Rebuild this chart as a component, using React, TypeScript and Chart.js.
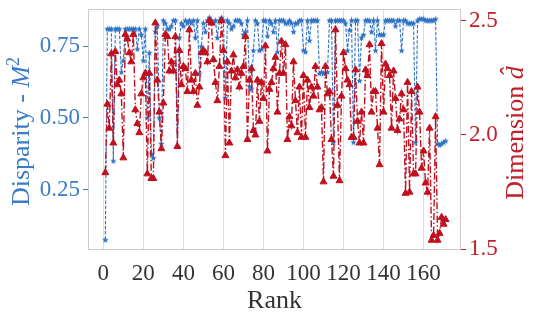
import { useEffect, useRef } from 'react';
import { Chart, registerables } from 'chart.js';

Chart.register(...registerables);

// Disparity M^2 (left axis), rank 1..171
const disparity = [
  0.075, 0.81, 0.81, 0.81, 0.35, 0.81, 0.81, 0.81, 0.66, 0.70,
  0.81, 0.81, 0.81, 0.81, 0.81, 0.81, 0.74, 0.81, 0.79, 0.70,
  0.81, 0.50, 0.727, 0.375, 0.36, 0.80, 0.82, 0.50, 0.41, 0.84,
  0.83, 0.81, 0.81, 0.82, 0.84, 0.84, 0.40, 0.78, 0.83, 0.82,
  0.84, 0.83, 0.84, 0.83, 0.84, 0.78, 0.84, 0.655, 0.75, 0.83,
  0.80, 0.84, 0.85, 0.84, 0.83, 0.84, 0.78, 0.84, 0.85, 0.84,
  0.57, 0.84, 0.83, 0.81, 0.82, 0.84, 0.84, 0.84, 0.83, 0.79,
  0.80, 0.84, 0.61, 0.60, 0.735, 0.84, 0.83, 0.735, 0.74, 0.84,
  0.84, 0.785, 0.84, 0.83, 0.80, 0.84, 0.73, 0.84, 0.84, 0.84,
  0.83, 0.83, 0.84, 0.83, 0.80, 0.83, 0.83, 0.84, 0.84, 0.736,
  0.73, 0.84, 0.77, 0.84, 0.84, 0.84, 0.84, 0.655, 0.66, 0.655,
  0.655, 0.66, 0.84, 0.84, 0.415, 0.84, 0.84, 0.84, 0.84, 0.84,
  0.83, 0.735, 0.806, 0.84, 0.415, 0.84, 0.84, 0.63, 0.78, 0.79,
  0.84, 0.84, 0.84, 0.80, 0.84, 0.735, 0.84, 0.79, 0.79, 0.79,
  0.84, 0.84, 0.84, 0.84, 0.84, 0.82, 0.84, 0.84, 0.735, 0.84,
  0.84, 0.83, 0.83, 0.83, 0.83, 0.415, 0.84, 0.845, 0.845, 0.845,
  0.84, 0.84, 0.84, 0.84, 0.84, 0.845, 0.41, 0.405, 0.41, 0.415,
  0.42,
];

// Dimension d-hat (right axis), rank 1..171
const dimension = [
  1.835, 2.135, 2.03, 2.355, 1.965, 2.365, 2.22, 2.24, 2.18, 1.90,
  2.44, 2.42, 2.36, 2.32, 2.44, 2.11, 2.05, 2.01, 2.18, 2.25,
  2.27, 1.83, 2.27, 1.81, 1.81, 2.49, 2.24, 2.10, 1.94, 2.14,
  2.44, 2.43, 2.28, 2.32, 2.28, 2.43, 1.95, 2.37, 2.22, 2.30,
  2.29, 2.19, 2.46, 2.24, 2.19, 2.27, 2.13, 2.21, 2.36, 2.37,
  2.36, 2.32, 2.50, 2.49, 2.33, 2.23, 2.15, 2.30, 2.50, 2.37,
  1.91, 2.32, 1.965, 2.28, 2.35, 2.25, 2.285, 2.21, 2.27, 2.30,
  2.43, 1.98, 2.24, 2.29, 2.02, 2.00, 2.24, 2.06, 2.23, 2.16,
  2.39, 1.93, 2.20, 2.23, 2.29, 2.34, 2.10, 2.27, 2.41, 2.27,
  2.395, 1.98, 2.08, 2.04, 2.32, 2.15, 2.01, 2.21, 1.99, 2.26,
  1.99, 2.24, 2.12, 2.21, 2.17, 2.30, 2.21, 2.11, 2.12, 1.795,
  2.30, 2.18, 2.19, 1.98, 1.82, 2.46, 2.13, 1.80, 2.17, 2.36,
  2.29, 2.24, 2.22, 1.99, 1.99, 2.285, 2.06, 1.965, 2.10, 1.965,
  2.285, 2.26, 2.395, 2.10, 2.19, 2.19, 2.03, 1.87, 2.40, 2.10,
  2.31, 2.29, 2.26, 2.03, 2.28, 2.16, 2.02, 2.07, 2.18, 2.11,
  1.745, 2.23, 1.75, 2.19, 1.83, 1.83, 2.21, 2.10, 1.855, 1.93,
  1.79, 1.75, 2.03, 1.54, 1.56, 2.08, 1.54, 1.57, 1.64, 1.61,
  1.63,
];

const ranks = disparity.map((_, i) => i + 1);

const xTicks = [0, 20, 40, 60, 80, 100, 120, 140, 160];
const leftTicks = [0.25, 0.5, 0.75];
const rightTicks = [1.5, 2.0, 2.5];

const BLUE = '#2f72c4';
const BLUE_TXT = '#3a7cc8';
const RED = '#c0101e';
const RED_TXT = '#c0202a';
const SERIF = '"Liberation Serif", "Times New Roman", serif';

function makeStar(color: string, size: number) {
  const c = document.createElement('canvas');
  c.width = size;
  c.height = size;
  const g = c.getContext('2d')!;
  const cx = size / 2, cy = size / 2 + 0.4, R = size / 2, r = R * 0.42;
  g.beginPath();
  for (let i = 0; i < 10; i++) {
    const a = -Math.PI / 2 + (i * Math.PI) / 5;
    const rad = i % 2 ? r : R;
    g.lineTo(cx + rad * Math.cos(a), cy + rad * Math.sin(a));
  }
  g.closePath();
  g.fillStyle = color;
  g.fill();
  return c;
}

type Seg = { t: string; f: string; dy: number };
function drawSegs(ctx: CanvasRenderingContext2D, segs: Seg[]) {
  let total = 0;
  const ws = segs.map((s) => {
    ctx.font = s.f;
    const w = ctx.measureText(s.t).width;
    total += w;
    return w;
  });
  let x = -total / 2;
  segs.forEach((s, i) => {
    ctx.font = s.f;
    ctx.fillText(s.t, x, s.dy);
    x += ws[i];
  });
}

const decor = {
  id: 'decor',
  afterDraw(chart: any) {
    const { ctx, chartArea: a } = chart;
    ctx.save();
    ctx.strokeStyle = '#cccccc';
    ctx.lineWidth = 1;
    ctx.strokeRect(a.left + 0.5, a.top + 0.5, a.right - a.left - 1, a.bottom - a.top - 1);

    ctx.textAlign = 'left';
    ctx.textBaseline = 'alphabetic';
    // x title
    ctx.fillStyle = '#333333';
    ctx.save();
    ctx.translate((a.left + a.right) / 2, 308);
    drawSegs(ctx, [{ t: 'Rank', f: `26px ${SERIF}`, dy: 0 }]);
    ctx.restore();

    // left title
    ctx.fillStyle = BLUE_TXT;
    ctx.save();
    ctx.translate(29, 131.5);
    ctx.rotate(-Math.PI / 2);
    drawSegs(ctx, [
      { t: 'Disparity - ', f: `26px ${SERIF}`, dy: 0 },
      { t: 'M', f: `italic 26px ${SERIF}`, dy: 0 },
      { t: '2', f: `18px ${SERIF}`, dy: -10 },
    ]);
    ctx.restore();

    // right title
    ctx.fillStyle = RED_TXT;
    ctx.save();
    ctx.translate(523, 133);
    ctx.rotate(-Math.PI / 2);
    drawSegs(ctx, [
      { t: 'Dimension ', f: `26px ${SERIF}`, dy: 0 },
      { t: 'd\u0302', f: `italic 26px ${SERIF}`, dy: 0 },
    ]);
    ctx.restore();
    ctx.restore();
  },
};

export default function App() {
  const ref = useRef<HTMLCanvasElement | null>(null);

  useEffect(() => {
    if (!ref.current) return;
    const star = makeStar(BLUE, 7);
    const chart = new Chart(ref.current, {
      type: 'line',
      data: {
        datasets: [
          {
            label: 'Dimension',
            data: ranks.map((r, i) => ({ x: r, y: dimension[i] })),
            yAxisID: 'yR',
            borderColor: RED,
            backgroundColor: RED,
            borderWidth: 1.4,
            borderDash: [7, 2.5, 1.5, 2.5],
            pointStyle: 'triangle',
            pointRadius: 4,
            pointBorderWidth: 1,
            pointBackgroundColor: RED,
            pointBorderColor: RED,
            tension: 0,
            order: 0,
          },
          {
            label: 'Disparity',
            data: ranks.map((r, i) => ({ x: r, y: disparity[i] })),
            yAxisID: 'yL',
            borderColor: BLUE,
            backgroundColor: BLUE,
            borderWidth: 1.1,
            borderDash: [3.5, 1.6],
            pointStyle: star as any,
            pointRadius: 3.5,
            tension: 0,
            order: 1,
          },
        ],
      },
      options: {
        animation: false,
        responsive: false,
        events: [],
        layout: { padding: { top: 9, left: 0, right: 0, bottom: 0 } },
        plugins: { legend: { display: false }, tooltip: { enabled: false } },
        scales: {
          x: {
            type: 'linear',
            min: -7.65,
            max: 178.7,
            afterBuildTicks: (s: any) => {
              s.ticks = xTicks.map((v) => ({ value: v }));
            },
            afterFit: (s: any) => {
              s.height = 72;
              s.paddingLeft = 0;
              s.paddingRight = 0;
            },
            grid: { color: '#dddddd', lineWidth: 1, drawTicks: false },
            border: { display: false },
            ticks: {
              includeBounds: false,
              padding: 10,
              color: '#333333',
              font: { family: SERIF, size: 23 },
              maxRotation: 0,
              autoSkip: false,
              callback: (v: any) => String(v),
            },
          },
          yL: {
            type: 'linear',
            position: 'left',
            min: 0.039,
            max: 0.879,
            afterBuildTicks: (s: any) => {
              s.ticks = leftTicks.map((v) => ({ value: v }));
            },
            afterFit: (s: any) => {
              s.width = 88;
              s.paddingTop = 0;
              s.paddingBottom = 0;
            },
            grid: { drawOnChartArea: false, drawTicks: true, tickLength: 5, color: BLUE_TXT },
            border: { display: false },
            ticks: {
              includeBounds: false,
              padding: 3,
              color: BLUE_TXT,
              font: { family: SERIF, size: 23 },
              callback: (v: any) => Number(v).toFixed(2),
            },
          },
          yR: {
            type: 'linear',
            position: 'right',
            min: 1.497,
            max: 2.551,
            afterBuildTicks: (s: any) => {
              s.ticks = rightTicks.map((v) => ({ value: v }));
            },
            afterFit: (s: any) => {
              s.width = 76;
              s.paddingTop = 0;
              s.paddingBottom = 0;
            },
            grid: { drawOnChartArea: false, drawTicks: true, tickLength: 5, color: RED_TXT },
            border: { display: false },
            ticks: {
              includeBounds: false,
              padding: 3,
              color: RED_TXT,
              font: { family: SERIF, size: 23 },
              callback: (v: any) => Number(v).toFixed(1),
            },
          },
        },
      },
      plugins: [decor],
    });
    return () => chart.destroy();
  }, []);

  return (
    <div style={{ position: 'fixed', left: 0, top: 0, width: 537, height: 322, background: '#ffffff' }}>
      <canvas ref={ref} width={537} height={322} style={{ display: 'block' }} />
    </div>
  );
}
